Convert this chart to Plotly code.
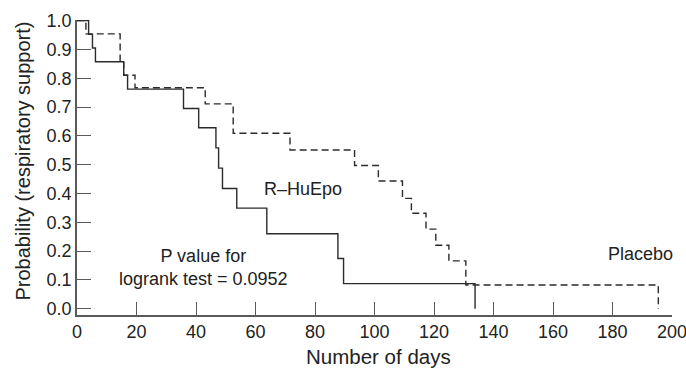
import plotly.graph_objects as go

# R-HuEpo (solid) Kaplan-Meier step curve
epo_days = [0, 3.9, 5.2, 6.2, 15.7, 17, 35.8, 40.9, 46.7, 47.6, 48.9, 53.7, 63.8, 87.7, 89.6, 133.8]
epo_prob = [1.0, 0.952, 0.905, 0.857, 0.81, 0.762, 0.695, 0.628, 0.558, 0.488, 0.417, 0.349, 0.26, 0.174, 0.087, 0.0]

# Placebo (dashed) Kaplan-Meier step curve
pla_days = [0, 3.0, 14.5, 15.7, 19.5, 43.1, 52.5, 71.6, 93.3, 101.3, 109.4, 112.4, 117.3, 120.6, 125.0, 130.7, 195.4]
pla_prob = [1.0, 0.954, 0.857, 0.81, 0.767, 0.711, 0.609, 0.551, 0.497, 0.443, 0.383, 0.331, 0.276, 0.22, 0.166, 0.082, 0.0]

x_ticks = [0, 20, 40, 60, 80, 100, 120, 140, 160, 180, 200]
y_ticks = [0.0, 0.1, 0.2, 0.3, 0.4, 0.5, 0.6, 0.7, 0.8, 0.9, 1.0]
y_tick_labels = [f"{v:.1f}" for v in y_ticks]

FONT = "Liberation Sans, Arial, sans-serif"
LINE = "#2b2b2b"
AXIS = "#5a5a5a"
TEXT = "#222222"

W, H = 686, 369
L, R, T, B = 77, 14, 20, 54
PW, PH = W - L - R, H - T - B


def px_to_paper_x(px):
    return (px - L) / PW


def px_to_paper_y(py):
    return (H - B - py) / PH


fig = go.Figure()
fig.add_trace(go.Scatter(x=pla_days, y=pla_prob, mode="lines", line_shape="hv",
                         line=dict(color=LINE, width=1.4, dash="7px,4px"),
                         showlegend=False, cliponaxis=False))
fig.add_trace(go.Scatter(x=epo_days, y=epo_prob, mode="lines", line_shape="hv",
                         line=dict(color=LINE, width=1.4),
                         showlegend=False, cliponaxis=False))


def label(px, py, text, size=18, angle=0):
    fig.add_annotation(xref="paper", yref="paper", x=px_to_paper_x(px), y=px_to_paper_y(py),
                       xanchor="center", yanchor="middle", text=text, showarrow=False,
                       textangle=angle, font=dict(size=size, color=TEXT, family=FONT))


label(303, 189, "R–HuEpo")
label(203, 267, "P value for<br>logrank test = 0.0952")
label(640, 254, "Placebo")
label(378, 356, "Number of days", size=20.5)
label(22, 161.5, "Probability (respiratory support)", size=20, angle=-90)

fig.update_layout(
    width=W, height=H,
    margin=dict(l=L, r=R, t=T, b=B, autoexpand=False),
    paper_bgcolor="white", plot_bgcolor="white",
    font=dict(family=FONT, size=18, color=TEXT),
    xaxis=dict(range=[0, 200], tickvals=x_ticks, ticks="inside", ticklen=13,
               tickcolor=AXIS, tickwidth=1.2, showline=True, linecolor=AXIS, linewidth=1.5,
               showgrid=False, zeroline=False, tickfont=dict(size=18), automargin=False,
               ticklabeloverflow="allow"),
    yaxis=dict(range=[-0.022, 1.002], tickvals=y_ticks, ticktext=y_tick_labels,
               ticks="inside", ticklen=14, tickcolor=AXIS, tickwidth=1.2,
               showline=True, linecolor=AXIS, linewidth=1.5,
               showgrid=False, zeroline=False, tickfont=dict(size=18), automargin=False,
               ticklabeloverflow="allow"),
)

fig.write_html("out.html", config={"displayModeBar": False},
               post_script="document.body.style.margin='0';document.body.style.overflow='hidden';")
